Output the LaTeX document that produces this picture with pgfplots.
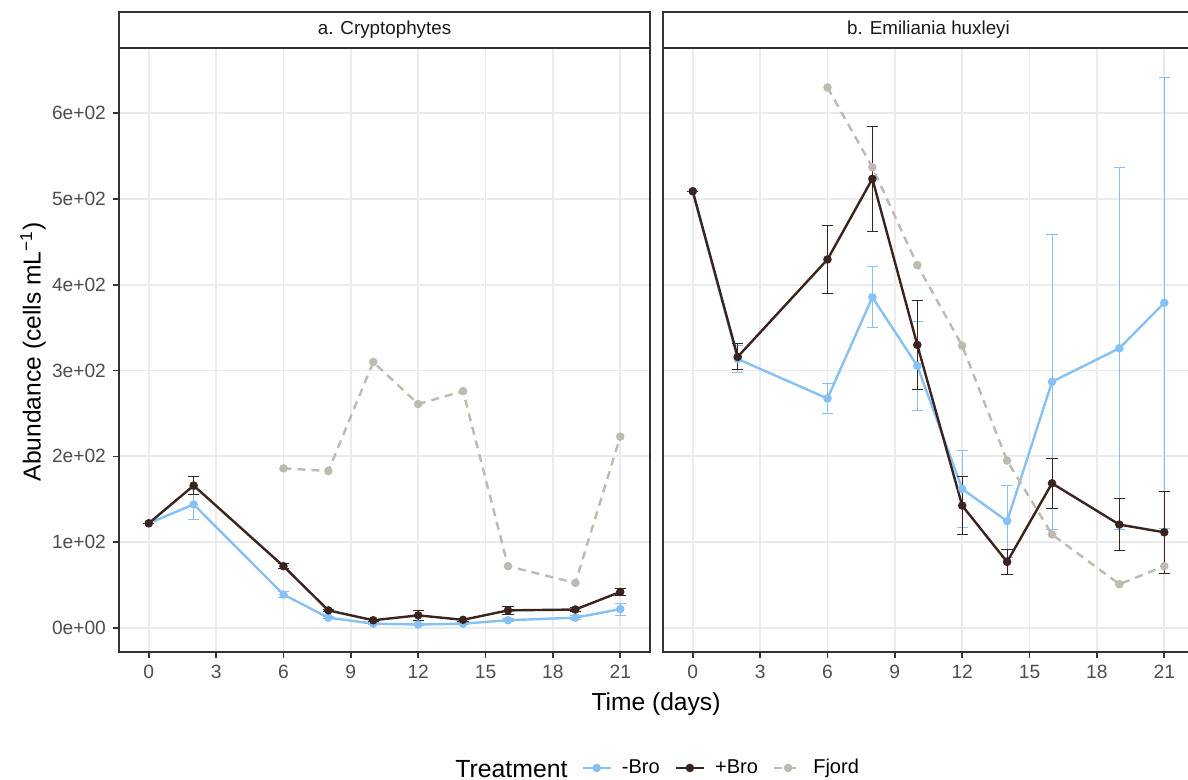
\documentclass[border=0pt]{standalone}
\usepackage{fontspec}
\setmainfont{Liberation Sans}
\usepackage{pgfplots}
\usepackage{pgfplotstable}
\pgfplotsset{compat=1.18}

\definecolor{broMinus}{RGB}{133,193,245}
\definecolor{broPlus}{RGB}{59,35,31}
\definecolor{fjord}{RGB}{190,186,176}
\definecolor{gridgray}{RGB}{235,235,235}
\definecolor{frame}{RGB}{51,51,51}
\definecolor{ticktext}{RGB}{77,77,77}

% Cryptophytes: mean abundance (cells/mL) and error
\pgfplotstableread{
t m e
0 122 0
2 144 17
6 39 3
8 12 1.5
10 5 1
12 4 1
14 5 1
16 9 2
19 12 2
21 22 7
}\cryMinus
\pgfplotstableread{
t m e
0 122 0
2 166 10.5
6 72 3
8 20.5 1.5
10 9 1
12 14.7 5.5
14 9.5 1.5
16 20.5 5
19 21.5 2
21 42 4.5
}\cryPlus
\pgfplotstableread{
t m
6 186
8 183
10 310
12 261
14 276
16 72
19 52.5
21 223
}\cryFjord

% Emiliania huxleyi
\pgfplotstableread{
t m e
0 509 0
2 313.5 15.5
6 267.5 17.5
8 385.5 35.5
10 305.5 51.5
12 162 45
14 124.5 42
16 287 172
19 326 211
21 379 263
}\ehuxMinus
\pgfplotstableread{
t m e
0 509 0
2 316 15
6 429.5 39.5
8 523.5 61.5
10 330 52
12 142.6 34
14 77 15
16 168.6 29
19 120.5 30.5
21 111.5 48
}\ehuxPlus
\pgfplotstableread{
t m
6 630
8 537
10 423
12 329
14 195
16 109
19 51
21 72
}\ehuxFjord

\pgfplotsset{
  panel/.style={
    scale only axis, width=265.5pt, height=302pt, anchor=south west,
    xmin=-1.325, xmax=22.325, ymin=-28, ymax=676,
    xtick={0,3,...,21}, ytick={0,100,...,600},
    xtick pos=bottom, ytick pos=left,
    grid=major, major grid style={gridgray, line width=0.9pt},
    axis line style={frame, line width=0.8pt},
    tick align=outside, major tick length=3pt,
    tick style={frame, line width=0.8pt},
    ticklabel style={font=\fontsize{9.6}{11}\selectfont, text=ticktext},
    /pgf/number format/assume math mode=true,
    legend image code/.code={\draw[mark repeat=2,mark phase=2,##1] plot coordinates {(0pt,0pt) (7pt,0pt) (14pt,0pt)};},
  },
  series/.style={line width=1.2pt, mark=*, mark size=1.5pt, mark options={solid},
    error bars/y dir=both, error bars/y explicit,
    error bars/error bar style={line width=0.5pt, solid},
    error bars/error mark options={rotate=90, line width=0.5pt, mark size=2.8pt}},
  fjordline/.style={fjord, line width=1.2pt, dash pattern=on 4pt off 3pt, mark=*, mark size=1.5pt, mark options={solid}},
}

\begin{document}
\begin{tikzpicture}
% panel a
\begin{axis}[panel, at={(59.5pt,64pt)},
  yticklabels={0e+00,1e+02,2e+02,3e+02,4e+02,5e+02,6e+02},
  legend columns=-1,
  legend style={at={(axis description cs:0.8703,-0.192)}, anchor=west, draw=none, fill=none,
    inner sep=0pt, font=\fontsize{10}{12}\selectfont,
    /tikz/every odd column/.append style={column sep=3pt},
    /tikz/every even column/.append style={column sep=5.5pt}},
  ]
  \addplot[series, broMinus] table[x=t, y=m, y error=e] {\cryMinus};
  \addlegendentry{-Bro}
  \addplot[series, broPlus] table[x=t, y=m, y error=e] {\cryPlus};
  \addlegendentry{+Bro}
  \addplot[fjordline] table[x=t, y=m] {\cryFjord};
  \addlegendentry{Fjord}
\end{axis}
% panel b
\begin{axis}[panel, at={(331.5pt,64pt)}, yticklabels={}, ytick style={draw=none}]
  \addplot[series, broMinus] table[x=t, y=m, y error=e] {\ehuxMinus};
  \addplot[series, broPlus] table[x=t, y=m, y error=e] {\ehuxPlus};
  \addplot[fjordline] table[x=t, y=m] {\ehuxFjord};
\end{axis}
% facet strips
\draw[frame, line width=0.8pt, fill=white] (59.5pt,366pt) rectangle (325pt,384pt);
\node[font=\fontsize{9.4}{11}\selectfont, text=black!90] at (192.25pt,375pt) {a. Cryptophytes};
\draw[frame, line width=0.8pt, fill=white] (331.5pt,366pt) rectangle (597pt,384pt);
\node[font=\fontsize{9.4}{11}\selectfont, text=black!90] at (464.25pt,375pt) {b. Emiliania huxleyi};
% axis titles
\node[font=\fontsize{12.3}{14}\selectfont, rotate=90] at (16.5pt,214pt) {Abundance (cells mL\textsuperscript{−1})};
\node[font=\fontsize{12.3}{14}\selectfont, anchor=base] at (328pt,34.5pt) {Time (days)};
\node[font=\fontsize{12.4}{14}\selectfont, anchor=base west, inner sep=0pt] at (227.5pt,1.2pt) {Treatment};
\pgfresetboundingbox
\path (0pt,0pt) rectangle (594pt,390pt);
\end{tikzpicture}
\end{document}
